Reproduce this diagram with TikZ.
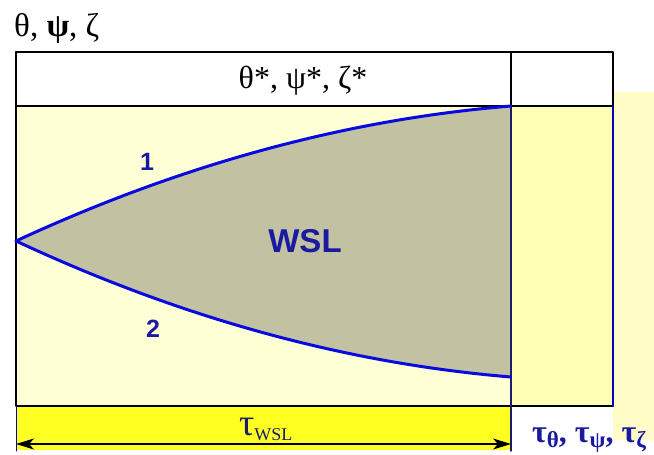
\documentclass[tikz,border=0pt]{standalone}
\usepackage{fontspec}
\setmainfont{Liberation Serif}
\setsansfont{Liberation Sans}
\usetikzlibrary{arrows.meta}
\definecolor{paleyel}{HTML}{FFFFD6}
\definecolor{colyel}{HTML}{FFFFB6}
\definecolor{bandyel}{HTML}{FFFF22}
\definecolor{wslgray}{HTML}{C2C2A2}
\definecolor{curveblue}{HTML}{0A0AE0}
\definecolor{txtblue}{HTML}{1A1AA0}
\definecolor{navy}{HTML}{1C1C6A}
\newcommand{\fsz}[1]{\fontsize{#1}{#1}\selectfont}
\newcommand{\tausub}[2][20]{τ{\fsz{#1}\raisebox{-5pt}{#2}}}

\begin{document}
\begin{tikzpicture}[x=1pt, y=-1pt, line join=round, line cap=round, >={Stealth[length=18pt,width=11pt,inset=5pt]}]
	\tikzset{declare function={up(\t)=241-135*(1.7*\t-0.7*\t*\t); lo(\t)=241+136*(1.7*\t-0.7*\t*\t);}}
	\tikzset{num/.style={font=\sffamily\bfseries\fsz{25}, text=txtblue, inner sep=0pt}}
	\def\xl{16} \def\xm{511} \def\xr{613}
	\def\yt{52} \def\yh{106} \def\yb{406} \def\ya{444}
	\useasboundingbox (0,0) rectangle (654,455);
	% fills
	\fill[yellow!22] (\xr,92) rectangle (654,440);
	\fill[paleyel] (\xl,\yh) rectangle (\xm,\yb);
	\fill[colyel] (\xm,\yh) rectangle (\xr,\yb);
	\fill[bandyel] (\xl,\yb) rectangle (\xm,450);
	\coordinate (O) at (\xl,241);
	\coordinate (A) at (\xm,\yh);
	\coordinate (B) at (\xm,377);
	\fill[wslgray] plot[domain=0:1, samples=60] ({\xl+495*\x},{up(\x)}) -- (B)
		-- plot[domain=1:0, samples=60] ({\xl+495*\x},{lo(\x)}) -- cycle;
	% header and frame
	\filldraw[fill=white, line width=1.8pt] (\xl,\yt) rectangle (\xr,\yh);
	\draw[line width=1.8pt] (\xl,\yt) -- (\xl,\yb) -- (\xr,\yb);
	\draw[line width=1pt, blue!70!black] (\xl,\yb) -- (\xl,451);
	\draw[line width=2pt, blue!75!black] (\xr,\yh) -- (\xr,\yb);
	\draw[line width=1.8pt] (\xm,\yt) -- (A);
	\draw[line width=1.4pt, navy] (A) -- (\xm,451);
	% boundaries 1 and 2
	\draw[curveblue, line width=3pt] plot[domain=0:1, samples=60] ({\xl+495*\x},{up(\x)});
	\draw[curveblue, line width=3pt] plot[domain=0:1, samples=60] ({\xl+495*\x},{lo(\x)});
	% time arrow
	\coordinate (L) at (\xl,\ya);
	\coordinate (R) at (\xm,\ya);
	\draw[<->, line width=1.1pt] (L) -- (R);
	% labels
	\node[anchor=base west, inner sep=0pt, font=\fsz{33}] (title) at (14,36) {θ, {\bfseries ψ}, ζ};
	\node[anchor=base, inner sep=0pt, font=\fsz{32}] (stars) at (303,88) {θ*, ψ*, ζ*};
	\node[anchor=base, num, font=\sffamily\bfseries\fsz{33}] (wsl) at (305,252) {WSL};
	\foreach \p/\n/\s in {(147,170)/one/1, (153,337)/two/2} \node[num, anchor=base] (\n) at \p {\s};
	\node[anchor=base west, inner sep=0pt, font=\fsz{38}, text=navy] (twsl) at (239,435) {\tausub[18]{WSL}};
	\node[anchor=base west, inner sep=0pt, font=\bfseries\fsz{32}, text=txtblue] (taus) at (532,442) {\tausub[23]{θ}, \tausub[23]{ψ}, \tausub[23]{ζ}};
\end{tikzpicture}
\end{document}
